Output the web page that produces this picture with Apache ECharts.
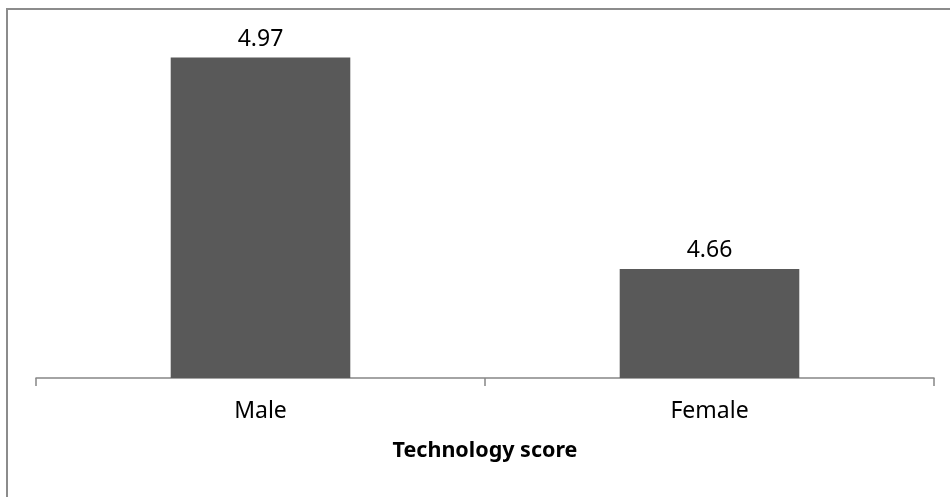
<!DOCTYPE html>
<html>
<head>
<meta charset="utf-8">
<script src="https://cdn.jsdelivr.net/npm/echarts@6/dist/echarts.min.js"></script>
<style>
html,body{margin:0;padding:0;background:#fff;}
#chart{width:950px;height:497px;}
</style>
</head>
<body>
<div id="chart"></div>
<script>
const categories = ['Male', 'Female'];
const scores = [4.97, 4.66];
const axisTitle = 'Technology score';

const chart = echarts.init(document.getElementById('chart'), null, {renderer: 'canvas'});
chart.setOption({
  animation: false,
  backgroundColor: '#ffffff',
  graphic: [{
    type: 'rect',
    shape: {x: 7, y: 9, width: 1000, height: 1000},
    style: {fill: 'none', stroke: '#8c8c8c', lineWidth: 2},
    silent: true
  }, {
    type: 'text',
    x: 485,
    y: 451,
    style: {
      text: axisTitle,
      fontFamily: 'Noto Sans',
      fontSize: 21.5,
      fontWeight: 'bold',
      fill: '#000',
      align: 'center',
      verticalAlign: 'middle'
    },
    silent: true
  }],
  grid: {left: 36, right: 16, top: 37, bottom: 119, containLabel: false},
  xAxis: {
    type: 'category',
    data: categories,
    axisLine: {lineStyle: {color: '#868686', width: 1.5}},
    axisTick: {show: true, length: 8, lineStyle: {color: '#868686', width: 1.5}},
    axisLabel: {margin: 22, fontFamily: 'Noto Sans', fontSize: 23, color: '#000'}
  },
  yAxis: {
    type: 'value',
    min: 4.5,
    max: 5.0,
    show: false,
    splitLine: {show: false}
  },
  series: [{
    type: 'bar',
    data: scores,
    barWidth: '40%',
    itemStyle: {color: '#595959'},
    label: {
      show: true,
      position: 'top',
      distance: 7,
      fontFamily: 'Noto Sans',
      fontSize: 23,
      color: '#000',
      formatter: p => p.value.toFixed(2)
    }
  }]
});
</script>
</body>
</html>
